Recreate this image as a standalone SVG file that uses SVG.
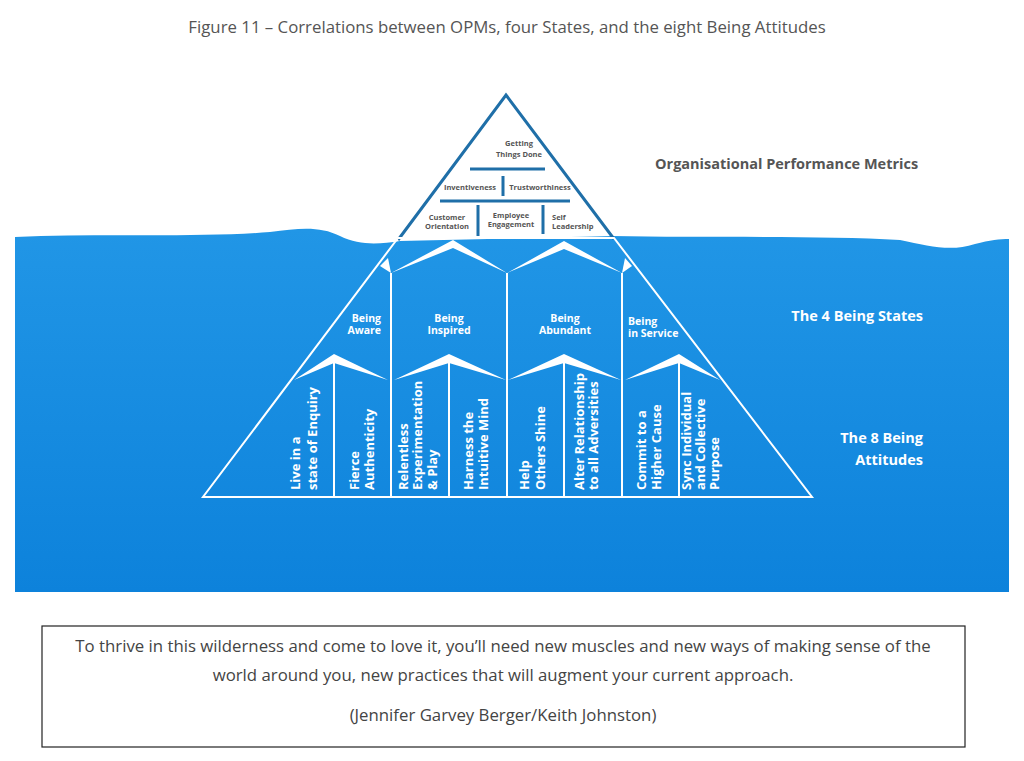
<svg xmlns="http://www.w3.org/2000/svg" width="1024" height="761" viewBox="0 0 1024 761">
<style>
.t{font-family:"Open Sans","Liberation Sans",sans-serif}
.w{fill:#fff;font-weight:bold;font-family:"Open Sans","Liberation Sans",sans-serif}
.m{fill:#555;font-weight:bold;font-size:7.5px;font-family:"Open Sans","Liberation Sans",sans-serif}
.v{font-size:13px}
.wl{stroke:#fff;stroke-width:2;fill:none}
.dl{stroke:#1f6fa8;stroke-width:3;fill:none}
</style>
<defs><linearGradient id="g" x1="0" y1="0" x2="0" y2="1"><stop offset="0" stop-color="#2196e6"/><stop offset="1" stop-color="#0d82db"/></linearGradient></defs>
<rect width="1024" height="761" fill="#fff"/>
<text class="t" x="507" y="33" font-size="16.8" fill="#555" text-anchor="middle">Figure 11 – Correlations between OPMs, four States, and the eight Being Attitudes</text>
<path d="M15,237 C100,233 200,238 270,232 C300,228 320,226 340,236 C360,246 380,244 400,241 L612,236 C700,238 820,235 900,240 C930,246 950,252 975,244 C990,240 1000,239 1009,239 L1009,592 L15,592 Z" fill="url(#g)"/>
<g id="tip">
<polygon points="506,95 398,238 612,236" fill="#fff"/>
<polyline class="dl" points="398,240 506,95 614,239"/>
<path class="dl" d="M470,169H545M503,176V196M440,201H570M478,205V236M543,205V234"/>
<g class="m" text-anchor="middle">
<text x="519" y="146">Getting</text><text x="519" y="157">Things Done</text>
<text x="470" y="190">Inventiveness</text><text x="540" y="190">Trustworthiness</text>
<text x="447" y="220">Customer</text><text x="447" y="229">Orientation</text>
<text x="511" y="218">Employee</text><text x="511" y="227">Engagement</text>
</g>
<text class="m" x="552" y="220">Self</text><text class="m" x="552" y="229">Leadership</text>
</g>
<g id="pyr">
<polygon class="wl" points="398,238 203,497 812,497 614,238" stroke-width="2.5"/>
<path class="wl" d="M391,273V497M507,273V497M622,273V497M334,360V497M449,360V497M564,360V497M679,360V497"/>
<polygon fill="#fff" points="391,273 453,240 507,273 453,248"/>
<polygon fill="#fff" points="507,273 564,241 622,273 564,249"/>
<polygon fill="#fff" points="380,266 388,258 391,273"/>
<polygon fill="#fff" points="622,273 625,258 632,266"/>
<polygon fill="#fff" points="294,380 334,354 388,380 334,363"/>
<polygon fill="#fff" points="394,380 449,354 506,380 449,363"/>
<polygon fill="#fff" points="508,380 564,354 621,380 564,363"/>
<polygon fill="#fff" points="625,380 679,354 720,380 679,363"/>
<g class="w" font-size="10.5">
<text x="381" y="322" text-anchor="end">Being</text><text x="381" y="334" text-anchor="end">Aware</text>
<text x="449" y="322" text-anchor="middle">Being</text><text x="449" y="334" text-anchor="middle">Inspired</text>
<text x="565" y="322" text-anchor="middle">Being</text><text x="565" y="334" text-anchor="middle">Abundant</text>
<text x="628" y="325">Being</text><text x="628" y="337">in Service</text>
</g>
<g class="w v">
<text transform="translate(300,490) rotate(-90)">Live in a</text>
<text transform="translate(317,490) rotate(-90)">state of Enquiry</text>
<text transform="translate(359,490) rotate(-90)">Fierce</text>
<text transform="translate(374,490) rotate(-90)">Authenticity</text>
<text transform="translate(408,490) rotate(-90)">Relentless</text>
<text transform="translate(422,490) rotate(-90)">Experimentation</text>
<text transform="translate(437,490) rotate(-90)">&amp; Play</text>
<text transform="translate(473,490) rotate(-90)">Harness the</text>
<text transform="translate(488,490) rotate(-90)">Intuitive Mind</text>
<text transform="translate(529,490) rotate(-90)">Help</text>
<text transform="translate(545,490) rotate(-90)">Others Shine</text>
<text transform="translate(584,490) rotate(-90)">Alter Relationship</text>
<text transform="translate(598,490) rotate(-90)">to all Adversities</text>
<text transform="translate(646,490) rotate(-90)">Commit to a</text>
<text transform="translate(661,490) rotate(-90)">Higher Cause</text>
<text transform="translate(691,490) rotate(-90)">Sync Individual</text>
<text transform="translate(705,490) rotate(-90)">and Collective</text>
<text transform="translate(719,490) rotate(-90)">Purpose</text>
</g>
</g>
<text class="t" x="655" y="169" font-size="14.5" font-weight="bold" fill="#555">Organisational Performance Metrics</text>
<g class="w" font-size="14.5" text-anchor="end">
<text x="923" y="321">The 4 Being States</text>
<text x="923" y="443">The 8 Being</text>
<text x="923" y="465">Attitudes</text>
</g>
<rect x="42" y="626" width="923" height="121" fill="#fff" stroke="#222" stroke-width="1.2"/>
<g class="t" font-size="16.8" fill="#444" text-anchor="middle">
<text x="503" y="652">To thrive in this wilderness and come to love it, you’ll need new muscles and new ways of making sense of the</text>
<text x="503" y="681">world around you, new practices that will augment your current approach.</text>
<text x="503" y="721">(Jennifer Garvey Berger/Keith Johnston)</text>
</g>
</svg>
